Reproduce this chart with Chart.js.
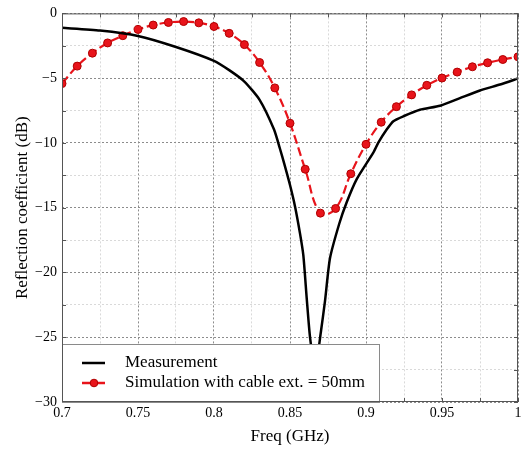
<!DOCTYPE html>
<html>
<head>
<meta charset="utf-8">
<script src="https://cdn.jsdelivr.net/npm/chart.js@4.4.1/dist/chart.umd.min.js"></script>
<style>
  body { margin: 0; background: #fff; }
  #wrap { width: 525px; height: 450px; }
</style>
</head>
<body>
<div id="wrap"><canvas id="reflchart" width="525" height="450"></canvas></div>
<script>
// measured curve (GHz, dB)
const measFreq = [0.700, 0.725, 0.750, 0.775, 0.800, 0.810, 0.820, 0.830, 0.8395, 0.8434, 0.8462, 0.850, 0.8533, 0.8566, 0.8588, 0.861, 0.8632, 0.8665, 0.8704, 0.873, 0.8763, 0.8824, 0.8873, 0.8939, 0.9048, 0.9081, 0.9136, 0.918, 0.9246, 0.9355, 0.9487, 0.9618, 0.975, 0.9882, 1.000];
const measDb = [-1.11, -1.32, -1.74, -2.59, -3.66, -4.38, -5.26, -6.67, -8.97, -10.45, -11.6, -13.25, -14.9, -17.0, -18.7, -22.0, -25.03, -27.5, -24.52, -22.23, -18.91, -16.24, -14.58, -12.79, -10.75, -9.98, -8.97, -8.32, -7.94, -7.44, -7.13, -6.54, -5.95, -5.49, -5.03];

// simulation, cable ext. = 50mm
const simFreq = [0.70, 0.71, 0.72, 0.73, 0.74, 0.75, 0.76, 0.77, 0.78, 0.79, 0.80, 0.81, 0.82, 0.83, 0.84, 0.85, 0.86, 0.87, 0.88, 0.89, 0.90, 0.91, 0.92, 0.93, 0.94, 0.95, 0.96, 0.97, 0.98, 0.99, 1.00];
const simDb = [-5.42, -4.07, -3.07, -2.28, -1.72, -1.24, -0.90, -0.70, -0.63, -0.73, -1.01, -1.54, -2.41, -3.79, -5.75, -8.48, -12.03, -15.42, -15.06, -12.38, -10.11, -8.40, -7.20, -6.29, -5.55, -4.99, -4.53, -4.12, -3.81, -3.56, -3.35];

const seriesNames = ['Measurement', 'Simulation with cable ext. = 50mm'];

const serif = 'Liberation Serif';
const toXY = (xs, ys) => xs.map((x, i) => ({ x: x, y: ys[i] }));
const isMul = (v, s) => Math.abs(v / s - Math.round(v / s)) < 1e-6;
const minus = (s) => s.replace('-', '\u2212');

const frameAndLegend = {
  id: 'frameAndLegend',
  afterDraw(chart) {
    const ctx = chart.ctx;
    const a = chart.chartArea;
    const xs = chart.scales.x, ys = chart.scales.y;
    ctx.save();
    // small inner tick marks
    ctx.strokeStyle = '#555';
    ctx.lineWidth = 1;
    ctx.beginPath();
    xs.ticks.forEach(t => {
      const px = Math.round(xs.getPixelForValue(t.value)) + 0.5;
      ctx.moveTo(px, a.bottom); ctx.lineTo(px, a.bottom - 4);
      ctx.moveTo(px, a.top); ctx.lineTo(px, a.top + 4);
    });
    ys.ticks.forEach(t => {
      const py = Math.round(ys.getPixelForValue(t.value)) + 0.5;
      ctx.moveTo(a.left, py); ctx.lineTo(a.left + 4, py);
      ctx.moveTo(a.right, py); ctx.lineTo(a.right - 4, py);
    });
    ctx.stroke();

    // legend box
    const lx = a.left, ly = 344, lw = 317, lh = a.bottom - 344;
    ctx.fillStyle = '#fff';
    ctx.fillRect(lx, ly, lw, lh);
    ctx.strokeStyle = '#8a8a8a';
    ctx.strokeRect(lx + 0.5, ly + 0.5, lw, lh);

    ctx.font = '17px "' + serif + '"';
    ctx.textBaseline = 'middle';
    ctx.fillStyle = '#000';
    const rows = [363, 383];
    // measurement
    ctx.strokeStyle = '#000';
    ctx.lineWidth = 2.5;
    ctx.beginPath(); ctx.moveTo(82, rows[0]); ctx.lineTo(105, rows[0]); ctx.stroke();
    ctx.fillText(seriesNames[0], 125, rows[0]);
    // simulation
    ctx.strokeStyle = '#e8141b';
    ctx.beginPath(); ctx.moveTo(82, rows[1]); ctx.lineTo(105, rows[1]); ctx.stroke();
    ctx.beginPath(); ctx.arc(94, rows[1], 3.8, 0, Math.PI * 2);
    ctx.fillStyle = '#e8141b'; ctx.fill();
    ctx.lineWidth = 1; ctx.strokeStyle = '#b00000'; ctx.stroke();
    ctx.fillStyle = '#000';
    ctx.fillText(seriesNames[1], 125, rows[1]);

    // plot frame
    ctx.strokeStyle = '#555';
    ctx.lineWidth = 1;
    ctx.strokeRect(a.left + 0.5, a.top + 0.5, a.right - a.left - 1, a.bottom - a.top - 1);
    ctx.restore();
  }
};

const reflconfig = {
  type: 'line',
  data: {
    datasets: [{
      label: seriesNames[0],
      data: toXY(measFreq, measDb),
      borderColor: '#000',
      borderWidth: 2.5,
      pointRadius: 0,
      tension: 0.2,
      fill: false
    }, {
      label: seriesNames[1],
      data: toXY(simFreq, simDb),
      borderColor: '#e8141b',
      borderWidth: 2.2,
      borderDash: [9, 4],
      pointRadius: 4,
      pointBackgroundColor: '#e8141b',
      pointBorderColor: '#b00000',
      pointBorderWidth: 1,
      tension: 0.4,
      fill: false
    }]
  },
  options: {
    responsive: false,
    animation: false,
    layout: { padding: { top: 10, right: 7, left: 0, bottom: 0 } },
    scales: {
      x: {
        type: 'linear',
        min: 0.7,
        max: 1.0,
        afterFit: (s) => { s.height = 48; },
        ticks: {
          stepSize: 0.025,
          autoSkip: false,
          maxRotation: 0,
          padding: 3,
          color: '#000',
          font: { family: serif, size: 14 },
          callback: (v) => isMul(v, 0.05) ? String(+v.toFixed(2)) : ''
        },
        grid: {
          drawTicks: false,
          lineWidth: 1,
          color: (c) => (c.tick && isMul(c.tick.value, 0.05)) ? '#8c8c8c' : '#d9d9d9'
        },
        border: { display: false, dash: [2, 2] },
        title: {
          display: true,
          text: 'Freq (GHz)',
          color: '#000',
          font: { family: serif, size: 17 },
          padding: { top: 0, bottom: 3 }
        }
      },
      y: {
        type: 'linear',
        min: -30,
        max: 0,
        afterFit: (s) => { s.width = 62; },
        ticks: {
          stepSize: 2.5,
          autoSkip: false,
          padding: 5,
          color: '#000',
          font: { family: serif, size: 14 },
          callback: (v) => isMul(v, 5) ? minus(String(v)) : ''
        },
        grid: {
          drawTicks: false,
          lineWidth: 1,
          color: (c) => (c.tick && isMul(c.tick.value, 5)) ? '#8c8c8c' : '#d9d9d9'
        },
        border: { display: false, dash: [2, 2] },
        title: {
          display: true,
          text: 'Reflection coefficient (dB)',
          color: '#000',
          font: { family: serif, size: 17 },
          padding: { top: 12, bottom: 0 }
        }
      }
    },
    plugins: {
      legend: { display: false },
      tooltip: { enabled: false }
    }
  },
  plugins: [frameAndLegend]
};

const reflchart = new Chart(document.getElementById('reflchart'), reflconfig);
</script>
</body>
</html>
